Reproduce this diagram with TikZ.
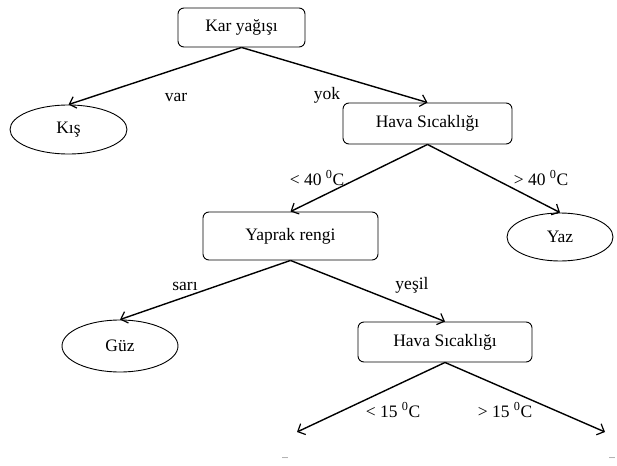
\documentclass[tikz,border=0pt]{standalone}
\usepackage{fontspec}
\setmainfont{Liberation Serif}
\usetikzlibrary{arrows.meta,shapes.geometric}
\begin{document}
\begin{tikzpicture}[x=1pt,y=-1pt,
  font=\fontsize{17.5}{20}\selectfont,
  test/.style={draw,line width=0.9pt,rounded corners=6pt,inner sep=0pt},
  leaf/.style={draw,line width=0.9pt,ellipse,inner sep=0pt},
  edge/.style={line width=1.4pt,-{Straight Barb[length=6pt,width=12pt,line width=1.2pt]}},
  lab/.style={inner sep=0pt}]
\useasboundingbox (0,0) rectangle (617,465);
% decision nodes
\node[test,minimum width=127pt,minimum height=39pt] (kar) at (241.5,27.5) {Kar yağışı};
\node[test,minimum width=169pt,minimum height=41pt] (hava1) at (427.5,123.5) {Hava Sıcaklığı};
\node[test,minimum width=175pt,minimum height=48pt] (yaprak) at (290.5,236) {Yaprak rengi};
\node[test,minimum width=174pt,minimum height=40pt] (hava2) at (445,342) {Hava Sıcaklığı};
% leaves
\node[leaf,minimum width=117pt,minimum height=49pt] (kis) at (68.5,129.5) {Kış};
\node[leaf,minimum width=106pt,minimum height=48pt] (yaz) at (560,237) {Yaz};
\node[leaf,minimum width=116pt,minimum height=52pt] (guz) at (120,346) {Güz};
% open branches
\node[lab,font=\fontsize{8}{9}\selectfont] (dl) at (285,458) {...};
\node[lab,font=\fontsize{8}{9}\selectfont] (dr) at (612,458) {...};
\coordinate (e1) at (297,432);
\coordinate (e2) at (605,432);
% connectors
\draw[edge] (kar.south) -- (kis.north);
\draw[edge] (kar.south) -- (hava1.north);
\draw[edge] (hava1.south) -- (yaprak.north);
\draw[edge] (hava1.south) -- (yaz.north);
\draw[edge] (yaprak.south) -- (guz.north);
\draw[edge] (yaprak.south) -- (hava2.north);
\draw[edge] (hava2.south) -- (e1);
\draw[edge] (hava2.south) -- (e2);
% branch labels
\node[lab] (lvar) at (176,97) {var};
\node[lab] (lyok) at (327,95) {yok};
\node[lab] (l40a) at (317,178) {< 40 \textsuperscript{0}C};
\node[lab] (l40b) at (541,178) {> 40 \textsuperscript{0}C};
\node[lab] (lsari) at (185,286) {sarı};
\node[lab] (lyesil) at (412,285) {yeşil};
\node[lab] (l15a) at (393,410) {< 15 \textsuperscript{0}C};
\node[lab] (l15b) at (505,410) {> 15 \textsuperscript{0}C};
\end{tikzpicture}
\end{document}
